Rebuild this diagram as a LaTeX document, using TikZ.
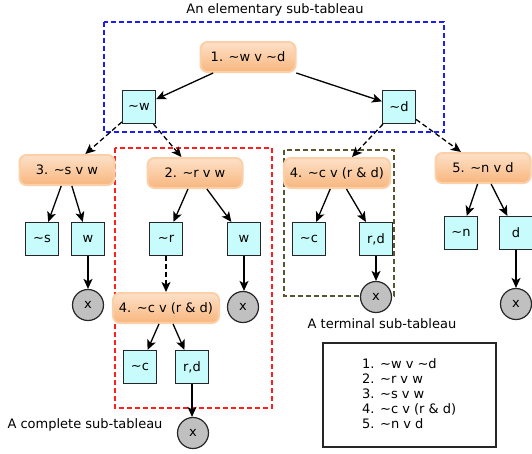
\documentclass[tikz,border=0pt]{standalone}
\usepackage{fontspec}
\setmainfont{DejaVu Sans}
\usetikzlibrary{arrows.meta}
\definecolor{orfillT}{HTML}{FDE1C8}
\definecolor{orfillB}{HTML}{F8B67E}
\definecolor{ordraw}{HTML}{FBD0A8}
\definecolor{cyfill}{HTML}{C8FCFC}
\definecolor{xfill}{HTML}{C0C0C0}
\definecolor{olive2}{HTML}{55552F}
\begin{document}
\begin{tikzpicture}[x=1pt,y=-1pt,
  font=\fontsize{13pt}{15pt}\selectfont,
  clause/.style={rounded corners=7pt, draw=ordraw, line width=2pt, top color=orfillT, bottom color=orfillB, minimum height=30pt, minimum width=95pt, inner xsep=6pt},
  lit/.style={draw=black!85, fill=cyfill, line width=1.2pt, minimum width=33pt, minimum height=33pt, inner sep=0pt},
  closed/.style={circle, draw=black!85, fill=xfill, line width=1.2pt, minimum size=31pt, inner sep=0pt},
  arr/.style={-{Stealth[length=10pt,width=9pt,inset=2.5pt]}, line width=1.3pt, black},
  darr/.style={arr, dash pattern=on 5pt off 3pt},
  region/.style={line width=1.2pt, dash pattern=on 5pt off 3pt}]
\useasboundingbox (0,0) rectangle (532,453);
% regions
\draw[region, draw={rgb,255:red,30;green,30;blue,240}] (104,22) rectangle (444,132);
\draw[region, draw={rgb,255:red,255;green,30;blue,30}] (115,148) rectangle (272,408);
\draw[region, draw=olive2] (284,150) rectangle (394,296);
% titles
\node (t1) at (275,10) {An elementary sub-tableau};
\node (t2) at (382,324) {A terminal sub-tableau};
\node (t3) at (85,425) {A complete sub-tableau};
% nodes
\node[clause] (n1) at (248,57) {1. \textasciitilde w v \textasciitilde d};
\node[lit] (w1) at (139,107) {\textasciitilde w};
\node[lit] (d1) at (399,107) {\textasciitilde d};
\node[clause] (n3) at (67,170) {3. \textasciitilde s v w};
\node[clause] (n2) at (195,173) {2. \textasciitilde r v w};
\node[clause, minimum width=105pt] (n4a) at (337,173) {4. \textasciitilde c v (r \& d)};
\node[clause] (n5) at (483,168) {5. \textasciitilde n v d};
\node[lit] (s) at (42,239) {\textasciitilde s};
\node[lit] (w3) at (88,239) {w};
\node[lit] (r) at (166,239) {\textasciitilde r};
\node[lit] (w2) at (244,239) {w};
\node[lit] (c1) at (309,239) {\textasciitilde c};
\node[lit] (rd1) at (376,239) {r,d};
\node[lit] (nn) at (461,233) {\textasciitilde n};
\node[lit] (d5) at (516,233) {d};
\node[closed] (x3) at (88,305) {x};
\node[closed] (x2) at (243,307) {x};
\node[closed] (xr1) at (376,297) {x};
\node[closed] (xd) at (516,304) {x};
\node[clause, minimum width=105pt] (n4b) at (166,308) {4. \textasciitilde c v (r \& d)};
\node[lit] (c2) at (140,367) {\textasciitilde c};
\node[lit] (rd2) at (192,367) {r,d};
\node[closed] (xb) at (193,433) {x};
% legend
\node[draw=black!85, line width=1.2pt, minimum width=173pt, minimum height=104pt] (leg) at (409.5,395) {};
\node[anchor=north west, align=left, inner sep=0pt] (legt) at (362,358) {1. \textasciitilde w v \textasciitilde d\\2. \textasciitilde r v w\\3. \textasciitilde s v w\\4. \textasciitilde c v (r \& d)\\5. \textasciitilde n v d};
% arrows
\draw[arr] (n1) -- (w1);
\draw[arr] (n1) -- (d1);
\draw[darr] (w1) -- (n3);
\draw[darr] (w1) -- (n2);
\draw[darr] (d1) -- (n4a);
\draw[darr] (d1) -- (n5);
\draw[arr] (n3) -- (s);
\draw[arr] (n3) -- (w3);
\draw[arr] (n2) -- (r);
\draw[arr] (n2) -- (w2);
\draw[arr] (n4a) -- (c1);
\draw[arr] (n4a) -- (rd1);
\draw[arr] (n5) -- (nn);
\draw[arr] (n5) -- (d5);
\draw[arr] (w3) -- (x3);
\draw[arr] (w2) -- (w2 |- x2.north);
\draw[arr] (rd1) -- (xr1);
\draw[arr] (d5) -- (xd);
\draw[darr] (r) -- (n4b);
\draw[arr] (n4b) -- (c2);
\draw[arr] (n4b) -- (rd2);
\draw[arr] (rd2) -- (rd2 |- xb.north);
\end{tikzpicture}
\end{document}
